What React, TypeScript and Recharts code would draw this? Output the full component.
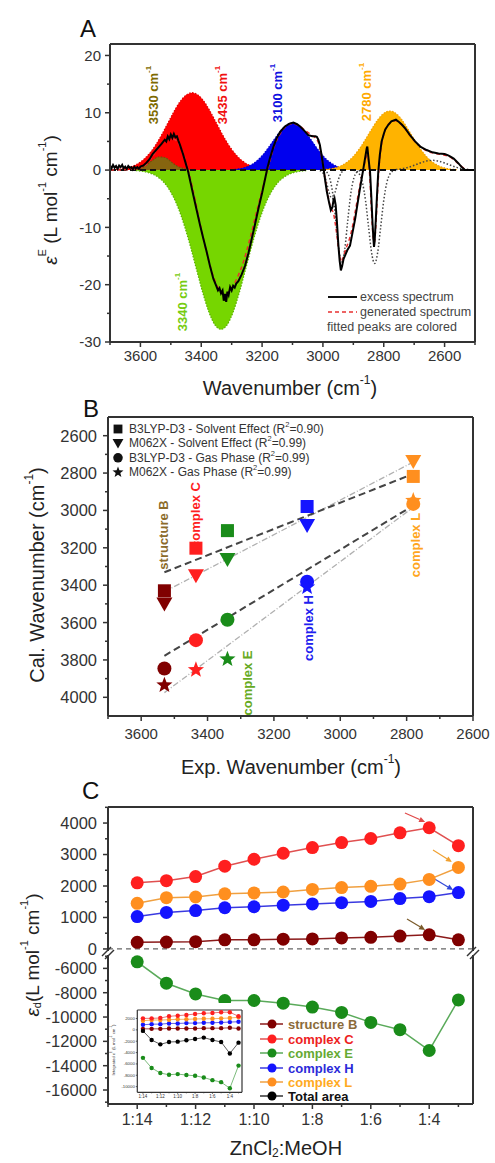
import React from 'react';
import { ComposedChart, Area, Line, Scatter, XAxis, YAxis, ReferenceLine } from 'recharts';

const FONT = '"Liberation Sans", Arial, Helvetica, sans-serif';
const AX = '#333';
const axisLine = { stroke: AX, strokeWidth: 2 };

type Pt = [number, number];

// ================= Panel A data (wavenumber, epsilon) =================
const excessSpectrum: Pt[] = [
  [3700,0.8],[3695,0.3],[3690,0.9],[3685,0.4],[3680,0.7],[3675,0.2],[3670,0.8],[3665,0.5],[3660,0.9],[3655,0.3],
  [3650,0.6],[3645,0.2],[3640,0.7],[3635,0.4],[3630,0.5],[3625,0.1],[3620,0.6],[3615,0.3],[3610,0.5],[3605,0.2],
  [3600,0.6],[3590,0.8],[3580,1.3],[3570,1.9],[3560,2.8],[3550,3.4],[3540,4.0],[3530,4.6],[3520,5.3],[3515,5.0],
  [3510,5.9],[3505,5.4],[3500,6.2],[3495,5.6],[3490,6.3],[3485,5.7],[3480,5.9],[3475,5.1],[3470,4.4],[3460,2.8],
  [3450,1.0],[3443,-0.3],[3435,-2.2],[3426,-4.4],[3415,-7.0],[3404,-9.6],[3393,-12.0],[3382,-14.3],[3371,-16.8],[3360,-19.0],
  [3350,-20.3],[3345,-21.0],[3340,-20.6],[3335,-21.5],[3330,-21.0],[3326,-22.8],[3322,-21.6],[3318,-23.0],[3314,-21.2],[3310,-21.8],
  [3305,-20.4],[3300,-21.0],[3295,-20.2],[3290,-20.5],[3285,-19.8],[3278,-19.4],[3267,-18.2],[3256,-16.7],[3245,-14.5],[3234,-12.0],
  [3223,-9.4],[3212,-6.7],[3200,-4.0],[3190,-1.5],[3182,0.5],[3174,2.1],[3163,4.0],[3152,5.6],[3140,6.7],[3125,7.6],
  [3110,8.1],[3097,8.3],[3085,8.0],[3075,7.6],[3060,6.8],[3048,6.1],[3035,5.9],[3025,5.9],[3020,5.8],[3015,5.3],
  [3010,4.4],[3004,2.5],[2998,0.3],[2992,-2.0],[2987,-3.8],[2980,-5.6],[2974,-7.0],[2969,-6.5],[2965,-5.2],[2962,-4.9],
  [2958,-6.1],[2954,-9.0],[2949,-13.2],[2945,-15.8],[2941,-17.5],[2937,-16.8],[2932,-15.5],[2927,-14.9],[2920,-14.0],[2911,-13.2],
  [2903,-11.0],[2894,-8.5],[2886,-5.8],[2878,-3.2],[2871,-1.0],[2865,0.9],[2860,2.5],[2856,3.8],[2854,4.1],[2851,2.5],
  [2848,1.0],[2845,-0.3],[2841,-4.5],[2837,-9.1],[2834,-12.0],[2832,-13.4],[2830,-12.5],[2826,-8.5],[2822,-4.2],[2818,-0.3],
  [2813,2.6],[2807,5.0],[2800,6.3],[2795,7.1],[2785,7.9],[2775,8.5],[2765,8.7],[2760,8.8],[2750,8.4],[2740,7.9],
  [2730,7.3],[2715,6.2],[2697,5.0],[2680,4.1],[2659,3.5],[2640,3.1],[2620,2.9],[2600,2.8],[2590,2.6],[2582,2.4],
  [2570,2.0],[2555,1.2],[2545,0.6],[2533,0.0],[2520,0.0],[2500,0.0],
];
const generatedSpectrum: Pt[] = [
  [3700,0],[3650,0.05],[3620,0.2],[3600,0.4],[3580,1.0],[3560,2.4],[3540,4.0],[3520,5.2],[3500,5.6],[3480,5.0],
  [3460,3.0],[3440,-0.6],[3420,-5.2],[3400,-10.3],[3380,-14.9],[3360,-18.6],[3340,-20.9],[3320,-21.6],[3300,-20.6],[3280,-18.6],
  [3260,-15.8],[3240,-12.0],[3220,-7.7],[3200,-3.5],[3180,0.5],[3160,4.2],[3140,6.4],[3120,7.7],[3100,8.1],[3080,7.8],
  [3060,7.0],[3040,6.2],[3025,5.6],[3015,4.8],[3005,2.6],[2995,-0.8],[2985,-4.0],[2975,-6.5],[2965,-7.6],[2955,-11.0],
  [2945,-15.0],[2940,-16.0],[2933,-15.2],[2925,-13.8],[2915,-12.4],[2905,-10.4],[2895,-7.6],[2885,-4.6],[2875,-1.8],[2865,0.6],
  [2858,2.2],[2854,2.6],[2850,1.6],[2845,-2.0],[2840,-7.5],[2835,-11.6],[2831,-12.6],[2826,-9.8],[2821,-4.6],[2815,0.8],
  [2808,4.2],[2800,6.2],[2790,7.6],[2775,8.4],[2760,8.6],[2745,8.1],[2730,7.2],[2715,6.1],[2700,5.1],[2680,4.1],
  [2660,3.4],[2640,3.0],[2620,2.8],[2600,2.6],[2580,2.2],[2565,1.6],[2550,0.9],[2535,0.3],[2520,0.05],[2500,0],
];
const peak3530: Pt[] = [[3620,0.05],[3600,0.3],[3580,0.9],[3560,1.7],[3540,2.3],[3520,2.2],[3500,1.5],[3480,0.7],[3460,0.3],[3440,0.05]];
const peak3435: Pt[] = [
  [3690,0.07],[3670,0.15],[3650,0.31],[3630,0.59],[3610,1.07],[3590,1.83],[3570,2.92],[3550,4.38],[3530,6.18],[3510,8.19],
  [3490,10.19],[3470,11.91],[3450,13.08],[3430,13.5],[3410,13.08],[3390,11.91],[3370,10.19],[3350,8.19],[3330,6.18],[3310,4.38],
  [3290,2.92],[3270,1.83],[3250,1.07],[3230,0.59],[3210,0.31],[3190,0.15],[3170,0.07],
];
const peak3100: Pt[] = [
  [3300,0.07],[3280,0.18],[3260,0.4],[3240,0.81],[3220,1.49],[3200,2.51],[3180,3.85],[3160,5.36],[3140,6.79],[3120,7.82],
  [3100,8.2],[3080,7.82],[3060,6.79],[3040,5.36],[3020,3.85],[3000,2.51],[2980,1.49],[2960,0.81],[2940,0.4],[2920,0.18],[2900,0.07],
];
const peak2780: Pt[] = [
  [3000,0.07],[2980,0.17],[2960,0.38],[2940,0.76],[2920,1.39],[2900,2.37],[2880,3.71],[2860,5.36],[2840,7.13],[2820,8.75],
  [2800,9.89],[2780,10.3],[2760,9.89],[2740,8.75],[2720,7.13],[2700,5.36],[2680,3.71],[2660,2.37],[2640,1.39],[2620,0.76],
  [2600,0.38],[2580,0.17],[2560,0.07],
];
const peak3340: Pt[] = [
  [3615,-0.09],[3595,-0.21],[3575,-0.43],[3555,-0.83],[3535,-1.53],[3515,-2.65],[3495,-4.34],[3475,-6.7],[3455,-9.78],[3435,-13.45],
  [3415,-17.47],[3395,-21.4],[3375,-24.75],[3355,-27.0],[3335,-27.8],[3315,-27.0],[3295,-24.75],[3275,-21.4],[3255,-17.47],[3235,-13.45],
  [3215,-9.78],[3195,-6.7],[3175,-4.34],[3155,-2.65],[3135,-1.53],[3115,-0.83],[3095,-0.43],[3075,-0.21],[3055,-0.09],
];
const dotted2970: Pt[] = [[3010,-0.08],[3000,-0.5],[2990,-1.8],[2980,-3.87],[2970,-5],[2960,-3.87],[2950,-1.8],[2940,-0.5],[2930,-0.08]];
const dotted2938: Pt[] = [[2998,-0.06],[2988,-0.34],[2978,-1.35],[2968,-3.99],[2958,-8.63],[2948,-13.7],[2938,-16],[2928,-13.7],[2918,-8.63],[2908,-3.99],[2898,-1.35],[2888,-0.34],[2878,-0.06]];
const dotted2830: Pt[] = [[2900,-0.04],[2890,-0.18],[2880,-0.72],[2870,-2.21],[2860,-5.29],[2850,-9.89],[2840,-14.4],[2830,-16.3],[2820,-14.4],[2810,-9.89],[2800,-5.29],[2790,-2.21],[2780,-0.72],[2770,-0.18],[2760,-0.04]];
const dotted2640: Pt[] = [[2760,0.09],[2740,0.23],[2720,0.47],[2700,0.83],[2680,1.23],[2660,1.57],[2640,1.7],[2620,1.57],[2600,1.23],[2580,0.83],[2560,0.47],[2540,0.23],[2520,0.09]];

const aXTicks = [3700,3600,3500,3400,3300,3200,3100,3000,2900,2800,2700,2600,2500];
const aXLabels = [3600,3400,3200,3000,2800,2600];
const aYTicks = [-30,-25,-20,-15,-10,-5,0,5,10,15,20];
const aYLabels = [-30,-20,-10,0,10,20];

// ================= Panel B data =================
const expWavenumber = [3530, 3435, 3340, 3100, 2780];
const b3lypSolvent = [3430, 3202, 3108, 2979, 2818];
const m062xSolvent = [3500, 3349, 3263, 3081, 2738];
const b3lypGas = [3846, 3694, 3585, 3381, 2965];
const m062xGas = [3935, 3853, 3796, 3411, 2947];
const fitExp = [3530, 2780];
const fitB3lypSolvent = [3331, 2804];
const fitM062xSolvent = [3435, 2741];
const fitB3lypGas = [3778, 2974];
const fitM062xGas = [3975, 2983];
const bXTicks = [3700,3600,3500,3400,3300,3200,3100,3000,2900,2800,2700,2600];
const bXLabels = [3600,3400,3200,3000,2800,2600];
const bYTicks = [2600,2700,2800,2900,3000,3100,3200,3300,3400,3500,3600,3700,3800,3900,4000];
const bYLabels = [2600,2800,3000,3200,3400,3600,3800,4000];
const speciesColor: Record<number, string> = { 3530: '#800000', 3435: '#ff1f1f', 3340: '#1a8c1a', 3100: '#1414ff', 2780: '#ff8f1f' };

// ================= Panel C data =================
const ratioN = [14, 13, 12, 11, 10, 9, 8, 7, 6, 5, 4, 3];
const structB = [210, 220, 230, 290, 290, 310, 320, 350, 370, 410, 450, 290];
const complexC = [2100, 2170, 2300, 2630, 2850, 3040, 3220, 3380, 3510, 3690, 3850, 3280];
const complexL = [1450, 1630, 1650, 1750, 1780, 1810, 1890, 1950, 1990, 2060, 2210, 2590];
const complexH = [1030, 1160, 1220, 1310, 1340, 1390, 1430, 1470, 1510, 1600, 1660, 1790];
const complexE = [-5460, -7220, -8100, -8640, -8640, -8860, -9180, -9620, -10440, -11040, -12750, -8590];
const insetB = [180, 180, 180, 240, 240, 240, 240, 300, 300, 300, 360, 240];
const insetC = [2030, 2030, 2090, 2390, 2500, 2630, 2800, 2930, 2980, 3110, 3110, 2390];
const insetE = [-4930, -6710, -7610, -7910, -7790, -7960, -8090, -8390, -8860, -9210, -10290, -6300];
const insetH = [890, 1010, 1010, 1130, 1130, 1190, 1190, 1250, 1250, 1310, 1370, 1430];
const insetL = [1610, 1730, 1730, 1790, 1860, 1860, 1910, 1960, 1960, 2030, 2090, 2210];
const insetTotal = [-180, -1790, -2550, -2140, -2080, -1840, -1610, -1360, -1790, -2140, -4160, -2250];
const cXTicks = [15, 14, 13, 12, 11, 10, 9, 8, 7, 6, 5, 4, 3];
const cXLabels = [14, 12, 10, 8, 6, 4];
const cUpperTicks = [0, 500, 1000, 1500, 2000, 2500, 3000, 3500, 4000, 4500];
const cUpperLabels = [0, 1000, 2000, 3000, 4000];
const cLowerTicks = [-5000, -6000, -7000, -8000, -9000, -10000, -11000, -12000, -13000, -14000, -15000, -16000, -17000];
const cLowerLabels = [-6000, -8000, -10000, -12000, -14000, -16000];
const insetYTicks = [2000, 0, -2000, -4000, -6000, -8000, -10000];
const insetXTicks = [14, 13, 12, 11, 10, 9, 8, 7, 6, 5, 4, 3];
const cArrows = [
  { from: [4.83, 4320], to: [4.14, 4034], color: '#e04848' },
  { from: [3.87, 3145], to: [3.22, 2764], color: '#f0a030' },
  { from: [3.87, 2255], to: [3.18, 1874], color: '#3048d8' },
  { from: [4.76, 953], to: [4.14, 604], color: '#7a5a2a' },
];

// ================= helpers =================
const wv = (pts: Pt[]) => pts.map(([w, v]) => ({ w, v }));
const xy = (xs: number[], ys: number[]) => xs.map((x, i) => ({ x, y: ys[i] }));
const ny = (ys: number[]) => ratioN.map((n, i) => ({ n, y: ys[i] }));

const xTick = (labels: number[], fs: number, gap: number, len = 5, minor = 3, fmt?: (v: number) => string, sw = 1.5) => (p: any) => {
  const v = p.payload.value;
  const major = labels.includes(v);
  return (
    <g>
      <line x1={p.x} x2={p.x} y1={p.y} y2={p.y + (major ? len : minor)} stroke={AX} strokeWidth={sw} />
      {major && (
        <text x={p.x} y={p.y + len + gap} dy="0.75em" textAnchor="middle" fontSize={fs} fill="#333" fontFamily={FONT}>
          {fmt ? fmt(v) : v}
        </text>
      )}
    </g>
  );
};
const yTick = (labels: number[], fs: number, gap: number, len = 5, minor = 3, sw = 1.5) => (p: any) => {
  const v = p.payload.value;
  const major = labels.includes(v);
  return (
    <g>
      <line x1={p.x} x2={p.x - (major ? len : minor)} y1={p.y} y2={p.y} stroke={AX} strokeWidth={sw} />
      {major && (
        <text x={p.x - len - gap} y={p.y} dy="0.36em" textAnchor="end" fontSize={fs} fill="#333" fontFamily={FONT}>
          {v}
        </text>
      )}
    </g>
  );
};

const Square = (p: any) => <rect x={p.cx - 6.5} y={p.cy - 6.5} width={13} height={13} fill={p.fill} />;
const TriDown = (p: any) => (
  <polygon points={`${p.cx - 8},${p.cy - 6.5} ${p.cx + 8},${p.cy - 6.5} ${p.cx},${p.cy + 7.5}`} fill={p.fill} />
);
const Circ = (p: any) => <circle cx={p.cx} cy={p.cy} r={p.r || 7} fill={p.fill} />;
const Star = (p: any) => {
  const R = p.R || 8.5, r = R * 0.42;
  const pts: string[] = [];
  for (let i = 0; i < 10; i++) {
    const a = -Math.PI / 2 + (i * Math.PI) / 5;
    const rr = i % 2 === 0 ? R : r;
    pts.push(`${p.cx + rr * Math.cos(a)},${p.cy + rr * Math.sin(a)}`);
  }
  return <polygon points={pts.join(' ')} fill={p.fill} />;
};
const colored = (Shape: any) => (p: any) => {
  const key = p.payload ? p.payload.x : p.x;
  return <Shape cx={p.cx} cy={p.cy} fill={speciesColor[key] || '#000'} />;
};

const arrowShape = (color: string) => (p: any) => {
  const { x1, y1, x2, y2 } = p;
  if ([x1, y1, x2, y2].some((v) => typeof v !== 'number' || isNaN(v))) return <g />;
  const ang = Math.atan2(y2 - y1, x2 - x1);
  const L = 6, W = 2.8;
  const bx = x2 - L * Math.cos(ang), by = y2 - L * Math.sin(ang);
  const px = -Math.sin(ang) * W, py = Math.cos(ang) * W;
  return (
    <g>
      <line x1={x1} y1={y1} x2={bx} y2={by} stroke={color} strokeWidth={1.2} />
      <polygon points={`${x2},${y2} ${bx + px},${by + py} ${bx - px},${by - py}`} fill={color} />
    </g>
  );
};

const Abs = ({ left, top, children, bg }: any) => (
  <div style={{ position: 'absolute', left, top, background: bg }}>{children}</div>
);

// ================= Panel A =================
function PanelA() {
  const areaCommon = { type: 'monotone' as const, baseValue: 0, fillOpacity: 1, strokeWidth: 1.2, strokeDasharray: '1.5 1.5', isAnimationActive: false, dot: false, activeDot: false };
  const dottedCommon = { type: 'monotone' as const, stroke: '#444', strokeWidth: 1.5, strokeDasharray: '1.5 2', dot: false, activeDot: false, isAnimationActive: false };
  return (
    <ComposedChart width={495} height={400} margin={{ top: 44, right: 20, bottom: 28, left: 60 }}>
      <XAxis type="number" dataKey="w" domain={[2500, 3700]} reversed allowDataOverflow ticks={aXTicks} interval={0}
        tickLine={false} tickSize={0} tickMargin={0} axisLine={axisLine} height={30} tick={xTick(aXLabels, 15, 3)} />
      <YAxis type="number" domain={[-30, 22]} allowDataOverflow ticks={aYTicks} interval={0}
        tickLine={false} tickSize={0} tickMargin={0} axisLine={axisLine} width={50} tick={yTick(aYLabels, 15, 4)} />
      <Area data={wv(peak3340)} dataKey="v" {...areaCommon} fill="#76d600" stroke="#5ab000" />
      <Area data={wv(peak3435)} dataKey="v" {...areaCommon} fill="#ff0000" stroke="#e00000" />
      <Area data={wv(peak3530)} dataKey="v" {...areaCommon} fill="#86650f" stroke="#6f5208" />
      <Area data={wv(peak3100)} dataKey="v" {...areaCommon} fill="#0000ee" stroke="#0000c8" />
      <Area data={wv(peak2780)} dataKey="v" {...areaCommon} fill="#ffb300" stroke="#f0a000" />
      <Line data={wv(dotted2970)} dataKey="v" {...dottedCommon} />
      <Line data={wv(dotted2938)} dataKey="v" {...dottedCommon} />
      <Line data={wv(dotted2830)} dataKey="v" {...dottedCommon} />
      <Line data={wv(dotted2640)} dataKey="v" {...dottedCommon} />
      <ReferenceLine y={0} stroke="#111" strokeWidth={2} strokeDasharray="6 4" />
      <Line data={wv(generatedSpectrum)} dataKey="v" type="monotone" stroke="#e83030" strokeWidth={1.5} strokeDasharray="4 3" dot={false} activeDot={false} isAnimationActive={false} />
      <Line data={wv(excessSpectrum)} dataKey="v" type="linear" stroke="#000" strokeWidth={2} dot={false} activeDot={false} isAnimationActive={false} />
      <ReferenceLine y={22} stroke={AX} strokeWidth={2} />
      <ReferenceLine x={2500} stroke={AX} strokeWidth={2} />
    </ComposedChart>
  );
}

// ================= Panel B =================
function PanelB() {
  const fitDash = { type: 'linear' as const, stroke: '#444', strokeWidth: 2, strokeDasharray: '7 4', dot: false, activeDot: false, isAnimationActive: false };
  const fitDot = { type: 'linear' as const, stroke: '#b0b0b0', strokeWidth: 1.3, strokeDasharray: '6 2 1 2', dot: false, activeDot: false, isAnimationActive: false };
  return (
    <ComposedChart width={495} height={400} margin={{ top: 37, right: 22, bottom: 34, left: 58 }}>
      <XAxis type="number" dataKey="x" domain={[2600, 3700]} reversed allowDataOverflow ticks={bXTicks} interval={0}
        tickLine={false} tickSize={0} tickMargin={0} axisLine={axisLine} height={30} tick={xTick(bXLabels, 15, 7)} />
      <YAxis type="number" dataKey="y" domain={[2500, 4100]} reversed allowDataOverflow ticks={bYTicks} interval={0}
        tickLine={false} tickSize={0} tickMargin={0} axisLine={axisLine} width={50} tick={yTick(bYLabels, 16.5, 6)} />
      <Line data={xy(fitExp, fitM062xSolvent)} dataKey="y" {...fitDot} />
      <Line data={xy(fitExp, fitM062xGas)} dataKey="y" {...fitDot} />
      <Line data={xy(fitExp, fitB3lypSolvent)} dataKey="y" {...fitDash} />
      <Line data={xy(fitExp, fitB3lypGas)} dataKey="y" {...fitDash} />
      <Scatter data={xy(expWavenumber, b3lypSolvent)} dataKey="y" shape={colored(Square)} isAnimationActive={false} />
      <Scatter data={xy(expWavenumber, m062xSolvent)} dataKey="y" shape={colored(TriDown)} isAnimationActive={false} />
      <Scatter data={xy(expWavenumber, b3lypGas)} dataKey="y" shape={colored(Circ)} isAnimationActive={false} />
      <Scatter data={xy(expWavenumber, m062xGas)} dataKey="y" shape={colored(Star)} isAnimationActive={false} />
      <ReferenceLine y={2500} stroke={AX} strokeWidth={2} />
      <ReferenceLine x={2600} stroke={AX} strokeWidth={2} />
    </ComposedChart>
  );
}

// ================= Panel C =================
const cLine = (ys: number[], line: string, dotC: string, r = 6.5, sw = 1.5) => (
  <Line data={ny(ys)} dataKey="y" type="linear" stroke={line} strokeWidth={sw}
    dot={{ r, fill: dotC, stroke: dotC, strokeWidth: 0 }} activeDot={false} isAnimationActive={false} />
);

function PanelCUpper() {
  return (
    <ComposedChart width={495} height={170} margin={{ top: 7, right: 22, bottom: 19, left: 58 }}>
      <XAxis type="number" dataKey="n" domain={[2.5, 15]} reversed allowDataOverflow hide />
      <YAxis type="number" domain={[-65, 4510]} allowDataOverflow ticks={cUpperTicks} interval={0}
        tickLine={false} tickSize={0} tickMargin={0} axisLine={axisLine} width={50} tick={yTick(cUpperLabels, 16.5, 6)} />
      <ReferenceLine y={0} stroke="#666" strokeWidth={1.2} strokeDasharray="5 4" />
      {cLine(structB, '#8b1a1a', '#800000')}
      {cLine(complexH, '#3a3ae0', '#1414ff')}
      {cLine(complexL, '#f0a040', '#ff8f1f')}
      {cLine(complexC, '#e05050', '#ff1f1f')}
      {cArrows.map((a, i) => (
        <ReferenceLine key={i} segment={[{ x: a.from[0], y: a.from[1] }, { x: a.to[0], y: a.to[1] }]} shape={arrowShape(a.color)} stroke={a.color} />
      ))}
      <ReferenceLine y={4510} stroke={AX} strokeWidth={2} />
      <ReferenceLine x={2.5} stroke={AX} strokeWidth={2} />
    </ComposedChart>
  );
}

function PanelCLower() {
  return (
    <ComposedChart width={495} height={213} margin={{ top: 5, right: 22, bottom: 29, left: 58 }}>
      <XAxis type="number" dataKey="n" domain={[2.5, 15]} reversed allowDataOverflow ticks={cXTicks} interval={0}
        tickLine={false} tickSize={0} tickMargin={0} axisLine={axisLine} height={30}
        tick={xTick(cXLabels, 16, 4, 5, 3, (v) => `1:${v}`)} />
      <YAxis type="number" domain={[-17150, -4900]} allowDataOverflow ticks={cLowerTicks} interval={0}
        tickLine={false} tickSize={0} tickMargin={0} axisLine={axisLine} width={50} tick={yTick(cLowerLabels, 16.5, 6)} />
      {cLine(complexE, '#5aaa5a', '#1a8c1a')}
      <ReferenceLine x={2.5} stroke={AX} strokeWidth={2} />
    </ComposedChart>
  );
}

function PanelCInset() {
  const il = (ys: number[], line: string, dotC: string) => cLine(ys, line, dotC, 2.2, 0.8);
  return (
    <ComposedChart width={138} height={99} margin={{ top: 7, right: 6, bottom: 2.7, left: 9.3 }}>
      <XAxis type="number" dataKey="n" domain={[2.6, 14.65]} reversed allowDataOverflow ticks={insetXTicks} interval={0}
        tickLine={false} tickSize={0} tickMargin={0} axisLine={{ stroke: AX, strokeWidth: 1.2 }} height={7}
        tick={xTick(cXLabels, 4.5, 0.8, 1.5, 1, (v) => `1:${v}`, 0.8)} />
      <YAxis type="number" domain={[-11000, 3500]} allowDataOverflow ticks={insetYTicks} interval={0}
        tickLine={false} tickSize={0} tickMargin={0} axisLine={{ stroke: AX, strokeWidth: 1.2 }} width={18}
        tick={yTick(insetYTicks, 4.3, 1, 1.5, 1, 0.8)} />
      {il(insetB, '#8b1a1a', '#800000')}
      {il(insetH, '#3a3ae0', '#1414ff')}
      {il(insetL, '#f0a040', '#ff8f1f')}
      {il(insetC, '#e05050', '#ff1f1f')}
      {il(insetTotal, '#333', '#000')}
      {il(insetE, '#5aaa5a', '#1a8c1a')}
      <ReferenceLine y={3500} stroke={AX} strokeWidth={1.2} />
      <ReferenceLine x={2.6} stroke={AX} strokeWidth={1.2} />
    </ComposedChart>
  );
}

// ================= overlay text =================
const peakLabels = [
  { t: '3530', x: 153, y: 95, c: '#7d6a00' },
  { t: '3435', x: 222, y: 95, c: '#f01010' },
  { t: '3100', x: 277, y: 93, c: '#1010e0' },
  { t: '2780', x: 366, y: 92, c: '#ffaa00' },
  { t: '3340', x: 182, y: 302, c: '#77cc11' },
];
const bLegend = [
  { shape: Square, t: 'B3LYP-D3 - Solvent Effect (R', r: '=0.90)' },
  { shape: TriDown, t: 'M062X - Solvent Effect (R', r: '=0.99)' },
  { shape: Circ, t: 'B3LYP-D3 - Gas Phase (R', r: '=0.99)' },
  { shape: Star, t: 'M062X - Gas Phase (R', r: '=0.99)' },
];
const bSpeciesLabels = [
  { t: 'structure B', x: 163, y: 535, c: '#8b6b2b' },
  { t: 'complex C', x: 195, y: 515, c: '#ff2020' },
  { t: 'complex E', x: 247, y: 683, c: '#66aa22' },
  { t: 'complex H', x: 308, y: 628, c: '#2020ee' },
  { t: 'complex L', x: 415, y: 545, c: '#ffa520' },
];
const cLegend = [
  { t: 'structure B', dot: '#800000', line: '#8b1a1a', c: '#8b6b3a' },
  { t: 'complex C', dot: '#ff1f1f', line: '#e05050', c: '#ee2222' },
  { t: 'complex E', dot: '#1a8c1a', line: '#5aaa5a', c: '#66aa33' },
  { t: 'complex H', dot: '#1414ff', line: '#3a3ae0', c: '#2b2bd9' },
  { t: 'complex L', dot: '#ff8f1f', line: '#f0a040', c: '#ffaa22' },
  { t: 'Total area', dot: '#000', line: '#333', c: '#111' },
];
const cLegendY = [1024, 1039, 1053, 1068, 1082, 1096];

function Overlay() {
  const rot = (x: number, y: number) => `translate(${x},${y}) rotate(-90)`;
  return (
    <svg width={495} height={1163} style={{ position: 'absolute', left: 0, top: 0, pointerEvents: 'none' }} fontFamily={FONT}>
      <text x={80} y={28} fontSize={24} dominantBaseline="central" fill="#111">A</text>
      <text x={83} y={408} fontSize={24} dominantBaseline="central" fill="#111">B</text>
      <text x={82} y={790} fontSize={24} dominantBaseline="central" fill="#111">C</text>

      {/* Panel A */}
      <text transform={rot(50, 200)} textAnchor="middle" dominantBaseline="central" fontSize={19} fill="#222">
        <tspan fontStyle="italic">ε</tspan><tspan dy={-8} fontSize={11}>E</tspan><tspan dy={8}> (L mol</tspan>
        <tspan dy={-8} fontSize={11}>-1</tspan><tspan dy={8}> cm</tspan><tspan dy={-8} fontSize={11}>-1</tspan><tspan dy={8}>)</tspan>
      </text>
      <text x={290} y={388} textAnchor="middle" dominantBaseline="central" fontSize={20} fill="#222">
        Wavenumber (cm<tspan dy={-8} fontSize={12}>-1</tspan><tspan dy={8}>)</tspan>
      </text>
      {peakLabels.map((l) => (
        <text key={l.t} transform={rot(l.x, l.y)} textAnchor="middle" dominantBaseline="central" fontSize={13} fontWeight="bold" fill={l.c}>
          {l.t} cm<tspan dy={-5} fontSize={8}>-1</tspan>
        </text>
      ))}
      <line x1={328} y1={297} x2={357} y2={297} stroke="#111" strokeWidth={2} />
      <text x={360} y={297} dominantBaseline="central" fontSize={12.5} fill="#444">excess spectrum</text>
      <line x1={328} y1={312} x2={357} y2={312} stroke="#e83030" strokeWidth={1.5} strokeDasharray="4 3" />
      <text x={360} y={312} dominantBaseline="central" fontSize={12.5} fill="#444">generated spectrum</text>
      <text x={327} y={327} dominantBaseline="central" fontSize={12.5} fill="#444">fitted peaks are colored</text>

      {/* Panel B */}
      <text transform={rot(37, 575)} textAnchor="middle" dominantBaseline="central" fontSize={20} fill="#222">
        Cal. Wavenumber (cm<tspan dy={-8} fontSize={12}>-1</tspan><tspan dy={8}>)</tspan>
      </text>
      <text x={291} y={767} textAnchor="middle" dominantBaseline="central" fontSize={20} fill="#222">
        Exp. Wavenumber (cm<tspan dy={-8} fontSize={12}>-1</tspan><tspan dy={8}>)</tspan>
      </text>
      {bLegend.map((l, i) => {
        const y = 429 + i * 14.4;
        const S = l.shape as any;
        return (
          <g key={i}>
            <g transform={`translate(118,${y}) scale(0.68) translate(-118,${-y})`}><S cx={118} cy={y} fill="#111" r={7} /></g>
            <text x={129} y={y} dominantBaseline="central" fontSize={12} fill="#333">
              {l.t}<tspan dy={-5} fontSize={7.5}>2</tspan><tspan dy={5}>{l.r}</tspan>
            </text>
          </g>
        );
      })}
      {bSpeciesLabels.map((l) => (
        <text key={l.t} transform={rot(l.x, l.y)} textAnchor="middle" dominantBaseline="central" fontSize={13} fontWeight="bold" fill={l.c}>{l.t}</text>
      ))}

      {/* Panel C */}
      <text transform={rot(32, 955)} textAnchor="middle" dominantBaseline="central" fontSize={19} fill="#222">
        <tspan fontStyle="italic">ε</tspan><tspan dy={5} fontSize={11}>d</tspan><tspan dy={-5}>(L mol</tspan>
        <tspan dy={-8} fontSize={11}>-1</tspan><tspan dy={8}> cm</tspan><tspan dy={-8} fontSize={11}>-1</tspan><tspan dy={8}>)</tspan>
      </text>
      <text x={286} y={1148} textAnchor="middle" dominantBaseline="central" fontSize={20} fill="#222">
        ZnCl<tspan dy={5} fontSize={12}>2</tspan><tspan dy={-5}>:MeOH</tspan>
      </text>
      <g stroke={AX} strokeWidth={1.5}>
        <line x1={102} y1={956} x2={111} y2={947} />
        <line x1={105} y1={959} x2={114} y2={950} />
        <line x1={467} y1={956} x2={476} y2={947} />
        <line x1={470} y1={959} x2={479} y2={950} />
      </g>
      {cLegend.map((l, i) => (
        <g key={l.t}>
          <line x1={260} y1={cLegendY[i]} x2={283} y2={cLegendY[i]} stroke={l.line} strokeWidth={1.5} />
          <circle cx={272} cy={cLegendY[i]} r={4.5} fill={l.dot} />
          <text x={288} y={cLegendY[i]} dominantBaseline="central" fontSize={13} fontWeight="bold" fill={l.c}>{l.t}</text>
        </g>
      ))}
      <text transform={rot(113, 1050)} textAnchor="middle" dominantBaseline="central" fontSize={4.3} fill="#333">
        Integrated <tspan fontStyle="italic">ε</tspan><tspan dy={-2} fontSize={3}>E</tspan><tspan dy={2}> (L mol</tspan>
        <tspan dy={-2} fontSize={3}>-1</tspan><tspan dy={2}> cm</tspan><tspan dy={-2} fontSize={3}>-1</tspan><tspan dy={2}>)</tspan>
      </text>
    </svg>
  );
}

export default function App() {
  return (
    <div style={{ position: 'absolute', left: 0, top: 0, width: 495, height: 1163, background: '#fff', fontFamily: FONT, overflow: 'hidden' }}>
      <Abs left={0} top={0}><PanelA /></Abs>
      <Abs left={0} top={380}><PanelB /></Abs>
      <Abs left={0} top={800}><PanelCUpper /></Abs>
      <Abs left={0} top={950}><PanelCLower /></Abs>
      <Abs left={110} top={1003} bg="#fff"><PanelCInset /></Abs>
      <Overlay />
    </div>
  );
}
